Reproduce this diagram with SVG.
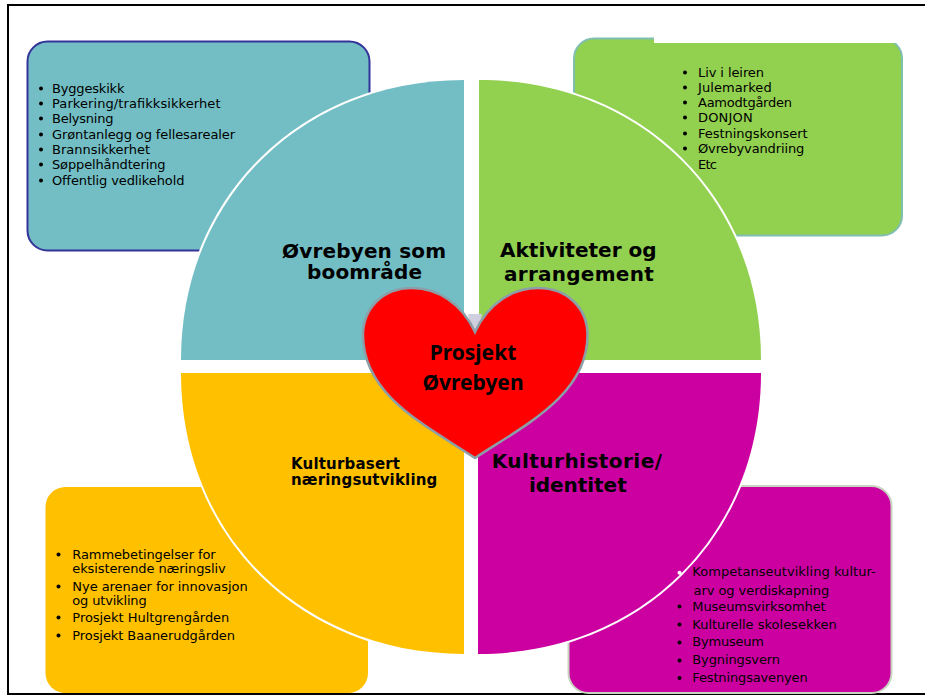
<svg xmlns="http://www.w3.org/2000/svg" width="925" height="695" viewBox="0 0 925 695">
<style>
text{font-family:"DejaVu Sans","Liberation Sans",sans-serif;fill:#000}
.b{font-size:13px}
.h{font-size:20px;font-weight:bold}
.s{font-size:15px;font-weight:bold}
.c{font-family:"Noto Sans",sans-serif;font-size:21px;font-weight:bold}
.q{stroke:#fff;stroke-width:4;paint-order:stroke}
</style>
<rect width="925" height="695" fill="#fff"/>
<path d="M925 5H8V694H925" fill="none" stroke="#000" stroke-width="2"/>
<g id="box-bo">
<rect x="27.500" y="41.500" width="342" height="209" rx="20" fill="#72bec4" stroke="#333399" stroke-width="2"/>
<g class="b"><text x="52" y="93" textLength="72.500">Byggeskikk</text><text x="52" y="108" textLength="168.500">Parkering/trafikksikkerhet</text><text x="52" y="123" textLength="61.500">Belysning</text><text x="52" y="139" textLength="183">Grøntanlegg og fellesarealer</text><text x="52" y="154" textLength="98">Brannsikkerhet</text><text x="52" y="169" textLength="113.500">Søppelhåndtering</text><text x="52" y="185" textLength="132.500">Offentlig vedlikehold</text></g>
<g fill="#000"><circle cx="41" cy="88.500" r="2"/><circle cx="41" cy="103.500" r="2"/><circle cx="41" cy="118.500" r="2"/><circle cx="41" cy="134.500" r="2"/><circle cx="41" cy="149.500" r="2"/><circle cx="41" cy="164.500" r="2"/><circle cx="41" cy="180.500" r="2"/></g>
</g>
<g id="box-akt">
<rect x="574" y="38.500" width="328" height="197" rx="20" fill="#92d050" stroke="#7ebfb0" stroke-width="2"/>
<rect x="654" y="36" width="250" height="7" fill="#fff"/>
<g class="b"><text x="698" y="77" textLength="66">Liv i leiren</text><text x="698" y="92" textLength="73.700">Julemarked</text><text x="698" y="107" textLength="94">Aamodtgården</text><text x="698" y="122" textLength="54.700">DONJON</text><text x="698" y="138" textLength="109.700">Festningskonsert</text><text x="698" y="153" textLength="106.300">Øvrebyvandriing</text><text x="698" y="169" textLength="19">Etc</text></g>
<g fill="#000"><circle cx="685" cy="72.500" r="2"/><circle cx="685" cy="87.500" r="2"/><circle cx="685" cy="102.500" r="2"/><circle cx="685" cy="117.500" r="2"/><circle cx="685" cy="133.500" r="2"/><circle cx="685" cy="148.500" r="2"/><circle cx="685" cy="164.500" r="2"/></g>
</g>
<g id="box-naering">
<rect x="45.500" y="487" width="322.500" height="206" rx="20" fill="#ffc000"/>
<g class="b"><text x="72.300" y="559" textLength="143.400">Rammebetingelser for</text><text x="72.300" y="573" textLength="153.400">eksisterende næringsliv</text><text x="72.300" y="591" textLength="175.400">Nye arenaer for innovasjon</text><text x="72.300" y="605" textLength="74.400">og utvikling</text><text x="72.300" y="622" textLength="157">Prosjekt Hultgrengården</text><text x="72.300" y="640" textLength="162.700">Prosjekt Baanerudgården</text></g>
<g fill="#000"><circle cx="58.500" cy="554.500" r="2"/><circle cx="58.500" cy="586.500" r="2"/><circle cx="58.500" cy="617.500" r="2"/><circle cx="58.500" cy="635.500" r="2"/></g>
</g>
<g id="box-kultur">
<rect x="568.500" y="486" width="323" height="207" rx="20" fill="#cc00a0" stroke="#c8d4c0" stroke-width="2"/>
<g class="b"><text x="692.300" y="576" textLength="183.400">Kompetanseutvikling kultur-</text><text x="693.500" y="595" textLength="135.800">arv og verdiskapning</text><text x="692.300" y="611" textLength="133.400">Museumsvirksomhet</text><text x="692.300" y="629" textLength="144.400">Kulturelle skolesekken</text><text x="692.300" y="646" textLength="71.700">Bymuseum</text><text x="692.300" y="664" textLength="87.700">Bygningsvern</text><text x="692.300" y="682" textLength="115.400">Festningsavenyen</text></g>
<g fill="#000"><circle cx="679.500" cy="606.500" r="2"/><circle cx="679.500" cy="624.500" r="2"/><circle cx="679.500" cy="642.500" r="2"/><circle cx="679.500" cy="660.500" r="2"/><circle cx="679.500" cy="678" r="2"/></g>
</g>
<g id="quarter-bo"><path class="q" d="M464 80C301.300 80 181 199 181 360H464Z" fill="#72bec4"/><text class="h" x="282" y="257.500" textLength="164">Øvrebyen som</text><text class="h" x="307" y="278.700" textLength="115">boområde</text></g>
<g id="quarter-akt"><path class="q" d="M479 80C641.200 80 761 199 761 360H479Z" fill="#92d050"/><text class="h" x="500" y="257.300" textLength="156.700">Aktiviteter og</text><text class="h" x="504" y="281" textLength="149.700">arrangement</text></g>
<g id="quarter-naering"><path class="q" d="M181 373C181 534.600 301.300 654 464 654V373Z" fill="#ffc000"/><text class="s" x="291" y="469" textLength="109">Kulturbasert</text><text class="s" x="291" y="485" textLength="146.300">næringsutvikling</text></g>
<g id="quarter-kultur"><path class="q" d="M761 373C761 534.600 640.700 654 478 654V373Z" fill="#cc00a0"/><circle cx="679.500" cy="572.700" r="2" fill="#fff"/><text class="h" x="491.700" y="468" textLength="170.300">Kulturhistorie/</text><text class="h" x="529" y="492" textLength="97.700">identitet</text></g>
<g id="heart">
<path d="M468 314H482L478 336H472Z" fill="#cfcfe0"/>
<path d="M475 332C462 304 438 288 412 288C382 288 363 309 363 335C363 395 425 425 475 458C525 425 587.500 395 587.500 335C587.500 309 568 288 538 288C512 288 488 304 475 332Z" fill="#ff0000" stroke="#8c9fa8" stroke-width="2.500"/>
<text class="c" x="473" y="360" text-anchor="middle">Prosjekt</text>
<text class="c" x="473" y="390" text-anchor="middle">Øvrebyen</text>
</g>
</svg>
